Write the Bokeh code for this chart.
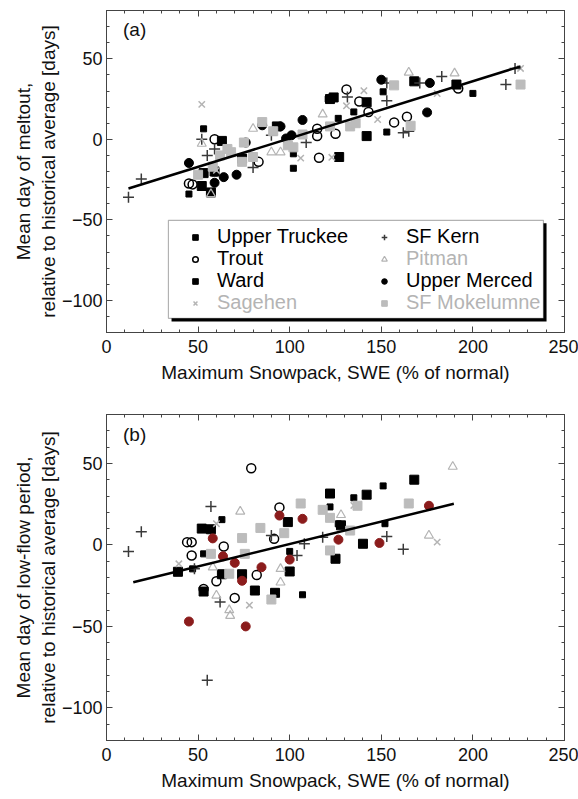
from bokeh.plotting import figure
from bokeh.layouts import column
from bokeh.models import (Range1d, LinearAxis, SingleIntervalTicker, Legend,
                          LegendItem, BoxAnnotation, Label, CustomLabelingPolicy)
from bokeh.embed import file_html
from bokeh.resources import INLINE

FONT = "Liberation Sans"

# ---------------- Panel (a): meltout ----------------
a_ut_x = [52, 57, 59, 53, 63, 74, 93, 122, 124, 127, 142, 142, 168, 191]
a_ut_y = [-29, -33, -20, -21, -1, -12, 8, 25, 26, -11, 2, 23, 36, 34]
a_trout_x = [45, 47, 59, 83, 115, 115, 116, 125, 131, 138, 143, 157, 164, 192]
a_trout_y = [-27.5, -28, 0, -14, 2, 6.5, -11.5, 3.5, 31, 23.5, 17, 10.5, 14, 31.5]
a_ward_x = [45, 53, 59, 102, 102, 121, 126.5, 135, 151, 153, 200]
a_ward_y = [-34, 6.5, -21, -18, -9, 25, 13, 17, 29.5, 4.5, 28.5]
a_sage_x = [52, 60, 106, 123, 131, 140.5, 148, 180.5, 226]
a_sage_y = [21.7, -19.3, -11.7, -11.2, 20.8, 30.2, 12.3, 28.4, 44]
a_kern_x = [12, 19, 52, 55, 59, 80, 90, 109, 131.5, 153, 153, 171, 183, 162, 165, 218, 223]
a_kern_y = [-36, -24.7, 0, -10, -6, -17.5, 2.5, -2, 26.3, 24, 35, 35, 39, 4, 5, 34, 44]
a_pit_x = [52, 57, 80, 90, 91, 95, 118, 165, 190]
a_pit_y = [-2.7, -34, 6.6, -8, 4.5, -8, 15.5, 41.5, 41]
a_merc_x = [45, 59, 64, 71, 76, 85, 95, 98, 101, 107, 150, 175, 176.5]
a_merc_y = [-14.7, -27, -23.5, -22, -2, 8.7, 8, 0.5, 2.5, 12, 37, 16.7, 35]
a_moke_x = [50, 58, 62, 66, 68, 74, 75, 80, 85, 91, 99, 102, 107, 122, 133, 136, 157, 166, 226]
a_moke_y = [-22, -17, -10, -6, -8, -14, -2, -11, 10.7, 5, -3.7, -5, 3, 8, 8, 10, 33.5, 8.4, 34]
a_fit_x = [12, 226]
a_fit_y = [-30.6, 45.3]

# ---------------- Panel (b): low-flow period ----------------
b_ut_x = [39, 52, 57, 53, 63, 74, 81, 92, 99, 100, 122, 125, 128, 140, 142, 168]
b_ut_y = [-16.5, 10, 9.6, -28.6, -18, -18, -28, -29.4, 14, -16.3, 31.5, -8.5, 12, 0.7, 30.8, 40]
b_trout_x = [44, 46.5, 46.5, 53, 60, 64, 70, 79, 82, 91.5, 94.4]
b_trout_y = [1.7, 1.7, -6.5, -27, -22.3, -1, -32.5, 47, -18.5, 3.7, 23]
b_ward_x = [47, 53, 63, 100, 107, 122, 126.5, 135, 151, 152]
b_ward_y = [-14.7, -5.5, 15.5, -4, -30.6, 23.3, 12.9, 28.9, 36.2, 13]
b_sage_x = [39.5, 60, 78, 135, 180.5]
b_sage_y = [-11.6, 13, -37, 24.2, 1.7]
b_kern_x = [12, 19, 48, 55, 57, 62, 90, 104, 108, 118, 153, 162]
b_kern_y = [-4, 8, -14.7, -83, 23.6, -35, 5.8, -6.5, 0.7, 4.7, 5.2, -2.6]
b_pit_x = [58, 60, 67, 67.5, 73, 95, 95, 128, 176, 189]
b_pit_y = [-13.7, -31, -40, -43.5, 20.5, -14.7, -23, 18.4, 5.8, 48]
b_merc_x = [45, 58, 63.6, 70, 74, 76, 84.6, 94.4, 100, 107, 126.6, 149, 176]
b_merc_y = [-47, 4, -7, -11, -22, -50, -13.7, 18, -9, 16, 3.2, 1.2, 24]
b_moke_x = [57, 67, 74, 75.5, 84, 90, 97, 106, 118, 122, 122, 133, 137, 165]
b_moke_y = [-5.5, -17.7, 4.2, -5.5, 10.4, -33.5, 7.2, 25.4, 21.5, 16.6, -3.4, 8.8, 24, 25.4]
b_fit_x = [14.6, 189.6]
b_fit_y = [-22.9, 25.2]

names = ["Upper Truckee", "Trout", "Ward", "Sagehen",
         "SF Kern", "Pitman", "Upper Merced", "SF Mokelumne"]
x_axis_title = "Maximum Snowpack, SWE (% of normal)"

# styles: marker, size, fill, line, line_width, legend text colour
STYLE = {
    "Upper Truckee": ("square", 9, "#000000", "#000000", 1, "#000000"),
    "Trout": ("circle", 9, None, "#000000", 1.5, "#000000"),
    "Ward": ("square", 6, "#000000", "#000000", 1, "#000000"),
    "Sagehen": ("x", 9, None, "#b4b4b4", 1.5, "#b4b4b4"),
    "SF Kern": ("cross", 11, None, "#3a3a3a", 1.5, "#000000"),
    "Pitman": ("triangle", 9, None, "#b4b4b4", 1.2, "#b4b4b4"),
    "Upper Merced": ("circle", 9, "#000000", "#000000", 1, "#000000"),
    "SF Mokelumne": ("square", 9, "#bcbcbc", "#bcbcbc", 1, "#b4b4b4"),
}

NO_LABELS = CustomLabelingPolicy(code="return new indices.constructor(indices.size)")


def make_panel(series, fit_x, fit_y, ylabel, tag, merced_color, top, bottom,
               height, with_legend):
    p = figure(width=578, height=height, x_range=Range1d(0, 250),
               y_range=Range1d(-120, 80), output_backend="svg",
               toolbar_location=None, min_border_left=106,
               min_border_right=14, min_border_top=top,
               min_border_bottom=bottom)
    p.grid.visible = False
    p.outline_line_color = "#444444"
    p.background_fill_color = "white"
    p.border_fill_color = "white"

    for ax in (p.xaxis[0], p.yaxis[0]):
        ax.ticker = SingleIntervalTicker(interval=50, num_minor_ticks=5)
        ax.major_tick_in = 6
        ax.major_tick_out = 0
        ax.minor_tick_in = 3
        ax.minor_tick_out = 0
        ax.axis_line_color = "#444444"
        ax.major_tick_line_color = "#444444"
        ax.minor_tick_line_color = "#444444"
        ax.major_label_text_font = FONT
        ax.major_label_text_font_size = "18px"
        ax.major_label_text_color = "#111111"
        ax.axis_label_text_font = FONT
        ax.axis_label_text_font_size = "19px"
        ax.axis_label_text_font_style = "normal"
        ax.axis_label_text_color = "#111111"
    p.xaxis.axis_label = x_axis_title
    p.xaxis.major_label_standoff = 7
    p.xaxis.axis_label_standoff = 6
    p.yaxis.axis_label = ylabel
    p.yaxis.major_label_standoff = 4
    p.yaxis.axis_label_standoff = 0

    for side in ("right", "above"):
        ax = LinearAxis(ticker=SingleIntervalTicker(interval=50, num_minor_ticks=5),
                        major_tick_in=6, major_tick_out=0, minor_tick_in=3,
                        minor_tick_out=0, major_label_policy=NO_LABELS,
                        major_label_text_font_size="1px",
                        major_label_standoff=0, axis_line_color="#444444",
                        major_tick_line_color="#444444",
                        minor_tick_line_color="#444444")
        p.add_layout(ax, side)

    renderers = {}
    for name, (xs, ys) in zip(names, series):
        marker, size, fill, line, lw, _ = STYLE[name]
        if name == "Upper Merced":
            fill = merced_color
            line = merced_color
        r = p.scatter(xs, ys, marker=marker, size=size,
                      fill_color=fill, line_color=line, line_width=lw)
        renderers[name] = r

    p.line(fit_x, fit_y, line_width=2.5, line_color="#000000")

    p.add_layout(Label(x=9, y=68, text=tag, text_font=FONT,
                       text_font_size="19px", text_baseline="middle",
                       text_color="#111111"))

    if with_legend:
        p.add_layout(BoxAnnotation(left=35.5, right=240.2, top=-52.2,
                                   bottom=-113.1, fill_color="black",
                                   fill_alpha=1, line_alpha=0))
        p.add_layout(BoxAnnotation(left=33.8, right=238.5, top=-50.3,
                                   bottom=-111.2, fill_color="white",
                                   fill_alpha=1, line_color="black",
                                   line_width=1.2))
        col_glyph = [195, 384]
        for i, name in enumerate(names):
            c, rrow = divmod(i, 4)
            center_y = 237 + 22 * rrow
            lx = col_glyph[c] - 7 - 106
            ly = 332 - center_y - 11
            leg = Legend(items=[LegendItem(label=name, renderers=[renderers[name]])],
                         location=(lx, ly), margin=0, padding=0,
                         glyph_width=14, glyph_height=14, label_height=22,
                         label_standoff=15, spacing=0,
                         background_fill_alpha=0, border_line_alpha=0,
                         label_text_font=FONT, label_text_font_size="20px",
                         label_text_color=STYLE[name][5])
            p.add_layout(leg)
    return p


series_a = [(a_ut_x, a_ut_y), (a_trout_x, a_trout_y), (a_ward_x, a_ward_y),
            (a_sage_x, a_sage_y), (a_kern_x, a_kern_y), (a_pit_x, a_pit_y),
            (a_merc_x, a_merc_y), (a_moke_x, a_moke_y)]
series_b = [(b_ut_x, b_ut_y), (b_trout_x, b_trout_y), (b_ward_x, b_ward_y),
            (b_sage_x, b_sage_y), (b_kern_x, b_kern_y), (b_pit_x, b_pit_y),
            (b_merc_x, b_merc_y), (b_moke_x, b_moke_y)]

pa = make_panel(series_a, a_fit_x, a_fit_y,
                "Mean day of meltout,\nrelative to historical average [days]",
                "(a)", "#000000", 10, 68, 400, True)
pb = make_panel(series_b, b_fit_x, b_fit_y,
                "Mean day of low-flow period,\nrelative to historical average [days]",
                "(b)", "#8b1c1c", 14, 59, 399, False)

layout = column(pa, pb, spacing=0)
open("out.html", "w").write(file_html(layout, INLINE))
